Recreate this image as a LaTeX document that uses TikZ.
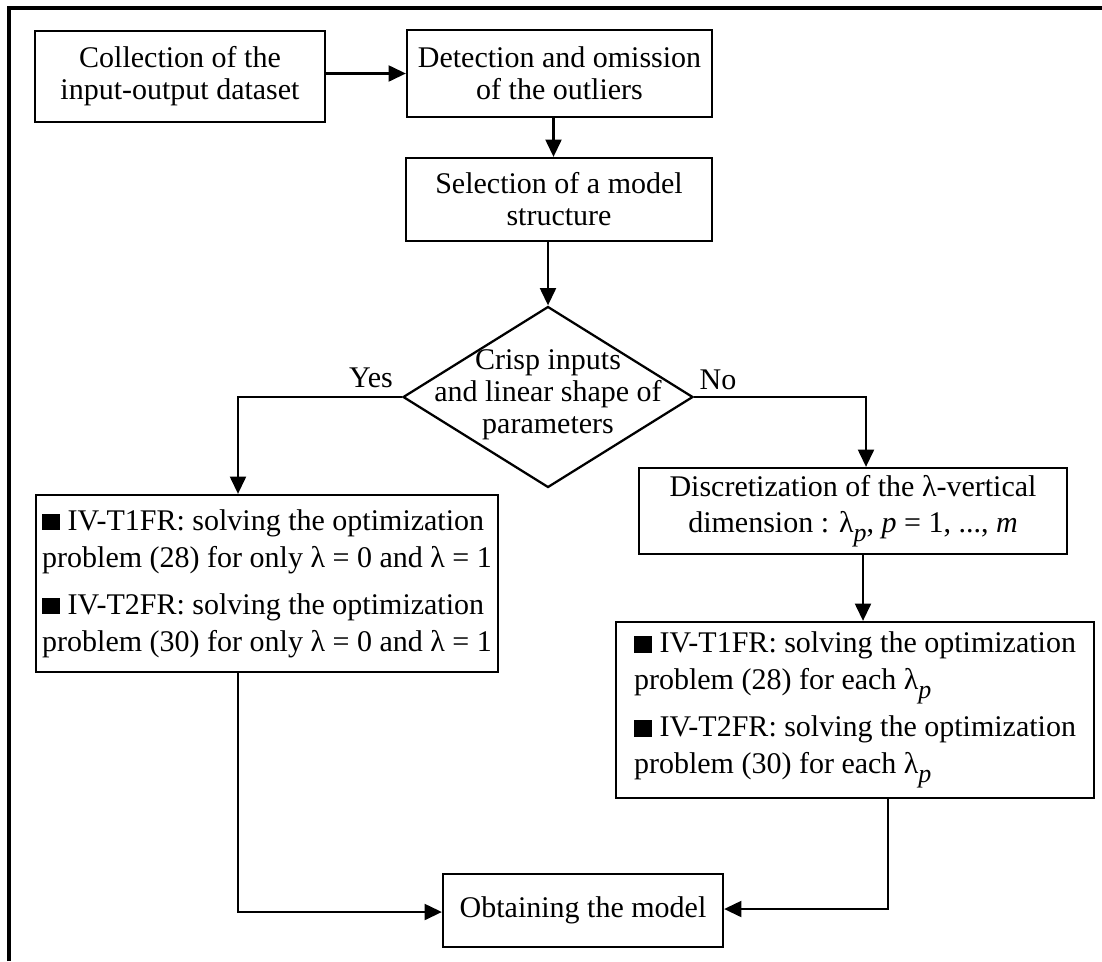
\documentclass[tikz,border=0pt]{standalone}
\usepackage{fontspec}
\setmainfont{Liberation Serif}
\usetikzlibrary{arrows.meta,shapes.geometric}
\newcommand{\blksq}{\rule{0.6em}{0.56em}}
\newcommand{\lamp}{λ\raisebox{-0.32em}{\fontsize{19.5}{19.5}\selectfont\textit{p}}}
\begin{document}
\begin{tikzpicture}[x=0.75pt,y=-0.75pt,
 box/.style={draw,line width=1.7pt,inner sep=0pt,align=center,font=\fontsize{22.5}{24}\selectfont},
 ivbox/.style={box,align=left,font=\fontsize{22.5}{27.5}\selectfont},
 dia/.style={draw,line width=1.7pt,diamond,inner sep=0pt},
 arr/.style={line width=1.7pt,-{Triangle[length=13pt,width=12pt]}},
 lbl/.style={font=\fontsize{22.5}{24}\selectfont,inner sep=0pt}]
\useasboundingbox (0,0) rectangle (1102,961);
\draw[line width=2.4pt] (9,961) -- (9,8) -- (1102,8);

\node[box,minimum width=217.5pt,minimum height=68.25pt] (A) at (180,76.5) {Collection of the\\input-output dataset};
\node[box,minimum width=228.75pt,minimum height=65.25pt] (B) at (559.5,73.5) {Detection and omission\\of the outliers};
\node[box,minimum width=229.5pt,minimum height=62.25pt] (C) at (559,199.5) {Selection of a model\\structure};
\node[dia,minimum width=217.5pt,minimum height=135.75pt] (D) at (548,397) {};
\node[box,draw=none] (Dt) at (548,395) {Crisp inputs\\and linear shape of\\parameters};
\node[ivbox,minimum width=346.5pt,minimum height=132.75pt] (E) at (267,583.5) {\blksq\ IV-T1FR: solving the optimization\\problem (28) for only λ = 0 and λ = 1\\[8pt]\blksq\ IV-T2FR: solving the optimization\\problem (30) for only λ = 0 and λ = 1};
\node[box,font=\fontsize{22.5}{27}\selectfont,minimum width=321pt,minimum height=64.5pt] (G) at (853,511) {Discretization of the λ-vertical\\dimension : \lamp, \textit{p} = 1, ..., \textit{m}};
\node[ivbox,minimum width=358.5pt,minimum height=132pt] (F) at (855,710) {\blksq\ IV-T1FR: solving the optimization\\problem (28) for each \lamp\\[8pt]\blksq\ IV-T2FR: solving the optimization\\problem (30) for each \lamp};
\node[box,minimum width=210pt,minimum height=54.75pt] (H) at (583,910.5) {Obtaining the model};

\node[lbl] (yes) at (371,378) {Yes};
\node[lbl] (no) at (718,380) {No};

\coordinate (yc) at (238,397);
\coordinate (nc) at (866,397);
\coordinate (lb) at (238,912);
\coordinate (rb) at (888,909);

\draw[arr] (A.east |- B.west) -- (B.west);
\draw[arr] ([xshift=-4.5pt]B.south) -- ([xshift=-4.5pt]B.south |- C.north);
\draw[arr] (C.south -| D.north) -- (D.north);
\draw[arr] (D.west) -- (yc) -- (yc |- E.north);
\draw[arr] (D.east) -- (nc) -- (nc |- G.north);
\draw[arr] ([xshift=7.5pt]G.south) -- ([xshift=7.5pt]G.south |- F.north);
\draw[arr] (lb |- E.south) -- (lb) -- (lb -| H.west);
\draw[arr] (rb |- F.south) -- (rb) -- (rb -| H.east);
\end{tikzpicture}
\end{document}
